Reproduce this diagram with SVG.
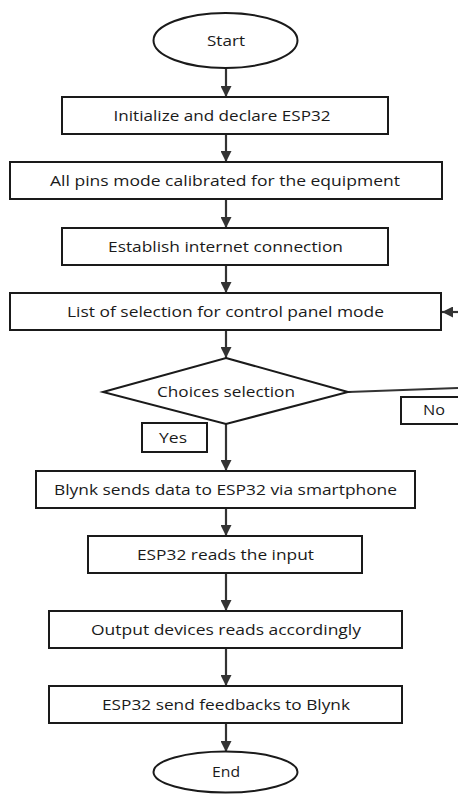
<svg xmlns="http://www.w3.org/2000/svg" width="458" height="794" viewBox="0 0 458 794">
<style>
.n{fill:#fff;stroke:#1a1a1a;stroke-width:2}
.t{font-family:"Open Sans","Noto Sans",sans-serif;font-size:14px;fill:#1a1a1a;text-anchor:middle}
.c{stroke:#333;stroke-width:2.2;fill:none}
</style>
<defs>
<marker id="ah" viewBox="0 0 10 10" refX="10" refY="5" markerWidth="5.5" markerHeight="5" markerUnits="strokeWidth" orient="auto">
<path d="M0,0 L10,5 L0,10 z" fill="#333"/>
</marker>
</defs>
<rect width="458" height="794" fill="#fff"/>
<g id="connectors">
<line class="c" x1="226" y1="68" x2="226" y2="97" marker-end="url(#ah)"/>
<line class="c" x1="226" y1="134" x2="226" y2="162" marker-end="url(#ah)"/>
<line class="c" x1="226" y1="199" x2="226" y2="228" marker-end="url(#ah)"/>
<line class="c" x1="226" y1="265" x2="226" y2="293" marker-end="url(#ah)"/>
<line class="c" x1="226" y1="330" x2="226" y2="358" marker-end="url(#ah)"/>
<line class="c" x1="226" y1="424" x2="226" y2="471" marker-end="url(#ah)"/>
<line class="c" x1="226" y1="508" x2="226" y2="536" marker-end="url(#ah)"/>
<line class="c" x1="226" y1="573" x2="226" y2="611" marker-end="url(#ah)"/>
<line class="c" x1="226" y1="648" x2="226" y2="686" marker-end="url(#ah)"/>
<line class="c" x1="226" y1="723" x2="226" y2="752" marker-end="url(#ah)"/>
<path class="c" d="M348,392 L458,388" stroke-width="1.6"/>
<line class="c" x1="460" y1="312" x2="442" y2="312" marker-end="url(#ah)"/>
</g>
<g id="start"><ellipse class="n" cx="225.5" cy="40.5" rx="72" ry="27.5"/><text class="t" x="226" y="45.5" textLength="38" lengthAdjust="spacingAndGlyphs">Start</text></g>
<g id="init"><rect class="n" x="62" y="97" width="326" height="37"/><text class="t" x="222" y="120.5" textLength="217" lengthAdjust="spacingAndGlyphs">Initialize and declare ESP32</text></g>
<g id="pins"><rect class="n" x="10" y="162" width="432" height="37"/><text class="t" x="225" y="185.5" textLength="350" lengthAdjust="spacingAndGlyphs">All pins mode calibrated for the equipment</text></g>
<g id="internet"><rect class="n" x="62" y="228" width="326" height="37"/><text class="t" x="225.5" y="251.5" textLength="235" lengthAdjust="spacingAndGlyphs">Establish internet connection</text></g>
<g id="list"><rect class="n" x="10" y="293" width="431" height="37"/><text class="t" x="225.5" y="316.5" textLength="317" lengthAdjust="spacingAndGlyphs">List of selection for control panel mode</text></g>
<g id="choice"><polygon class="n" points="226,358 348,392 226,424 103,392"/><text class="t" x="226" y="396.5" textLength="138" lengthAdjust="spacingAndGlyphs">Choices selection</text></g>
<g id="no"><rect class="n" x="401" y="397" width="70" height="27"/><text class="t" x="434" y="415" textLength="22" lengthAdjust="spacingAndGlyphs">No</text></g>
<g id="yes"><rect class="n" x="142" y="423" width="65" height="29"/><text class="t" x="173" y="443" textLength="28" lengthAdjust="spacingAndGlyphs">Yes</text></g>
<g id="blynk"><rect class="n" x="36" y="471" width="379" height="37"/><text class="t" x="225.5" y="494.5" textLength="343" lengthAdjust="spacingAndGlyphs">Blynk sends data to ESP32 via smartphone</text></g>
<g id="reads"><rect class="n" x="88" y="536" width="274" height="37"/><text class="t" x="225.5" y="559.5" textLength="177" lengthAdjust="spacingAndGlyphs">ESP32 reads the input</text></g>
<g id="output"><rect class="n" x="49" y="611" width="353" height="37"/><text class="t" x="226" y="634.5" textLength="270" lengthAdjust="spacingAndGlyphs">Output devices reads accordingly</text></g>
<g id="feedback"><rect class="n" x="49" y="686" width="353" height="37"/><text class="t" x="226" y="709.5" textLength="248" lengthAdjust="spacingAndGlyphs">ESP32 send feedbacks to Blynk</text></g>
<g id="end"><ellipse class="n" cx="225.5" cy="772" rx="72" ry="20.5"/><text class="t" x="226" y="777" textLength="28" lengthAdjust="spacingAndGlyphs">End</text></g>
</svg>
